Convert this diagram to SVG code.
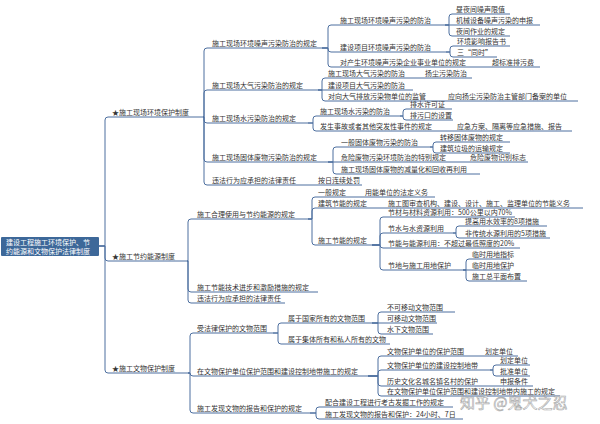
<svg xmlns="http://www.w3.org/2000/svg" width="600" height="424" viewBox="0 0 600 424">
<style>
.t{font-family:"Noto Sans CJK SC","Noto Sans",sans-serif;font-size:7px;fill:#333}
.u{stroke:#4d6f9f;stroke-width:1;fill:none}
.c{stroke:#4d6f9f;stroke-width:1;fill:none}
.rt{font-family:"Noto Sans CJK SC","Noto Sans",sans-serif;font-size:7px;fill:#fff}
.wm{font-family:"Noto Sans CJK SC",sans-serif;font-size:15px;fill:#fff;stroke:#8a8a8a;stroke-width:0.6;opacity:0.75}
</style>
<rect width="600" height="424" fill="#fff"/>
<g id="connectors">
<path class="c" d="M99,246 H105 V120 Q105,117 108,117"/>
<path class="c" d="M99,246 H105 V258 Q105,261 108,261"/>
<path class="c" d="M99,246 H105 V370 Q105,373 108,373"/>
<path class="c" d="M203,117 H204 V51 Q204,48 207,48"/>
<path class="c" d="M203,117 H204 V93 Q204,90 207,90"/>
<path class="c" d="M203,117 H204 V120 Q204,123 207,123"/>
<path class="c" d="M203,117 H204 V159 Q204,162 207,162"/>
<path class="c" d="M203,117 H204 V182 Q204,185 207,185"/>
<path class="c" d="M322,48 H328 V28 Q328,25 331,25"/>
<path class="c" d="M322,48 H328 V49 Q328,52 331,52"/>
<path class="c" d="M322,48 H328 V64 Q328,67 331,67"/>
<path class="c" d="M445,25 H449 V17 Q449,14 452,14"/>
<path class="c" d="M445,25 H452"/>
<path class="c" d="M445,25 H449 V33 Q449,36 452,36"/>
<path class="c" d="M446,52 H450 V49 Q450,46 453,46"/>
<path class="c" d="M446,52 H450 V54 Q450,57 453,57"/>
<path class="c" d="M318,90 H322 V81 Q322,78 325,78"/>
<path class="c" d="M318,90 H325"/>
<path class="c" d="M318,90 H322 V98 Q322,101 325,101"/>
<path class="c" d="M308,123 H313 V119 Q313,116 316,116"/>
<path class="c" d="M308,123 H313 V128 Q313,131 316,131"/>
<path class="c" d="M400,116 H403 V112 Q403,109 406,109"/>
<path class="c" d="M400,116 H403 V117 Q403,120 406,120"/>
<path class="c" d="M328,162 H333 V150 Q333,147 336,147"/>
<path class="c" d="M328,162 H336"/>
<path class="c" d="M328,162 H333 V171 Q333,174 336,174"/>
<path class="c" d="M430,147 H433 V145 Q433,142 436,142"/>
<path class="c" d="M430,147 H433 V150 Q433,153 436,153"/>
<path class="c" d="M187,261 H188 V222 Q188,219 191,219"/>
<path class="c" d="M187,261 H188 V289 Q188,292 191,292"/>
<path class="c" d="M187,261 H188 V300 Q188,303 191,303"/>
<path class="c" d="M308,219 H312 V200 Q312,197 315,197"/>
<path class="c" d="M308,219 H312 V211 Q312,208 315,208"/>
<path class="c" d="M308,219 H312 V242 Q312,245 315,245"/>
<path class="c" d="M372,245 H380 V220 Q380,217 383,217"/>
<path class="c" d="M372,245 H380 V236 Q380,233 383,233"/>
<path class="c" d="M372,245 H380 V245 Q380,248 383,248"/>
<path class="c" d="M372,245 H380 V267 Q380,270 383,270"/>
<path class="c" d="M453,233 H456 V229 Q456,226 459,226"/>
<path class="c" d="M453,233 H456 V235 Q456,238 459,238"/>
<path class="c" d="M463,270 H466 V262 Q466,259 469,259"/>
<path class="c" d="M463,270 H469"/>
<path class="c" d="M463,270 H466 V278 Q466,281 469,281"/>
<path class="c" d="M188,373 H190 V336 Q190,333 193,333"/>
<path class="c" d="M188,373 H190 V373 Q190,376 193,376"/>
<path class="c" d="M188,373 H190 V410 Q190,413 193,413"/>
<path class="c" d="M273,333 H278 V326 Q278,323 281,323"/>
<path class="c" d="M273,333 H278 V341 Q278,344 281,344"/>
<path class="c" d="M372,323 H378 V315 Q378,312 381,312"/>
<path class="c" d="M372,323 H381"/>
<path class="c" d="M372,323 H378 V331 Q378,334 381,334"/>
<path class="c" d="M368,376 H378 V359 Q378,356 381,356"/>
<path class="c" d="M368,376 H378 V373 Q378,370 381,370"/>
<path class="c" d="M368,376 H378 V383 Q378,386 381,386"/>
<path class="c" d="M368,376 H378 V393 Q378,396 381,396"/>
<path class="c" d="M490,370 H493 V368 Q493,365 496,365"/>
<path class="c" d="M490,370 H493 V373 Q493,376 496,376"/>
<path class="c" d="M310,413 H316 V410 Q316,407 319,407"/>
<path class="c" d="M310,413 H316 V416 Q316,419 319,419"/>
</g>
<g id="root"><rect x="1" y="237" width="98" height="19" rx="1" fill="#3d6899"/><text class="rt" x="6" y="244.5">建设工程施工环境保护、节</text><text class="rt" x="6" y="253.5">约能源和文物保护法律制度</text></g>
<g id="A"><text class="t" x="112" y="115">★施工现场环境保护制度</text><path class="u" d="M108,117 H203"/></g>
<g id="A1"><text class="t" x="212" y="46">施工现场环境噪声污染防治的规定</text><path class="u" d="M207,48 H322"/></g>
<g id="A1a"><text class="t" x="340" y="23">施工现场环境噪声污染的防治</text><path class="u" d="M331,25 H445"/></g>
<g id="A1a1"><text class="t" x="456" y="12">昼夜间噪声限值</text><path class="u" d="M452,14 H510"/></g>
<g id="A1a2"><text class="t" x="456" y="23">机械设备噪声污染的申报</text><path class="u" d="M452,25 H540"/></g>
<g id="A1a3"><text class="t" x="456" y="34">夜间作业的规定</text><path class="u" d="M452,36 H510"/></g>
<g id="A1b"><text class="t" x="340" y="50">建设项目环境噪声污染的防治</text><path class="u" d="M331,52 H446"/></g>
<g id="A1b1"><text class="t" x="457" y="44">环境影响报告书</text><path class="u" d="M453,46 H510"/></g>
<g id="A1b2"><text class="t" x="457" y="55">三“同时”</text><path class="u" d="M453,57 H497"/></g>
<g id="A1c"><text class="t" x="340" y="65">对产生环境噪声污染企业事业单位的规定</text><path class="u" d="M331,67 H473"/></g>
<g id="A1c1"><text class="t" x="492" y="65">超标准排污费</text><path class="u" d="M473,67 H540"/></g>
<g id="A2"><text class="t" x="212" y="88">施工现场大气污染防治的规定</text><path class="u" d="M207,90 H318"/></g>
<g id="A2a"><text class="t" x="328" y="76">施工现场大气污染的防治</text><path class="u" d="M325,78 H413"/></g>
<g id="A2a1"><text class="t" x="425" y="76">扬尘污染防治</text><path class="u" d="M413,78 H472"/></g>
<g id="A2b"><text class="t" x="328" y="88">建设项目大气污染的防治</text><path class="u" d="M325,90 H413"/></g>
<g id="A2c"><text class="t" x="328" y="99">对向大气排放污染物单位的监管</text><path class="u" d="M325,101 H438"/></g>
<g id="A2c1"><text class="t" x="448" y="99">应向扬尘污染防治主管部门备案的单位</text><path class="u" d="M438,101 H578"/></g>
<g id="A3"><text class="t" x="212" y="121">施工现场水污染防治的规定</text><path class="u" d="M207,123 H308"/></g>
<g id="A3a"><text class="t" x="320" y="114">施工现场水污染的防治</text><path class="u" d="M316,116 H400"/></g>
<g id="A3a1"><text class="t" x="410" y="107">排水许可证</text><path class="u" d="M406,109 H452"/></g>
<g id="A3a2"><text class="t" x="410" y="118">排污口的设置</text><path class="u" d="M406,120 H453"/></g>
<g id="A3b"><text class="t" x="320" y="129">发生事故或者其他突发性事件的规定</text><path class="u" d="M316,131 H445"/></g>
<g id="A3b1"><text class="t" x="457" y="129">应急方案、隔离等应急措施、报告</text><path class="u" d="M445,131 H572"/></g>
<g id="A4"><text class="t" x="212" y="160">施工现场固体废物污染防治的规定</text><path class="u" d="M207,162 H328"/></g>
<g id="A4a"><text class="t" x="341" y="145">一般固体废物污染的防治</text><path class="u" d="M336,147 H430"/></g>
<g id="A4a1"><text class="t" x="440" y="140">转移固体废物的规定</text><path class="u" d="M436,142 H510"/></g>
<g id="A4a2"><text class="t" x="440" y="151">建筑垃圾的运输规定</text><path class="u" d="M436,153 H510"/></g>
<g id="A4b"><text class="t" x="341" y="160">危险废物污染环境防治的特别规定</text><path class="u" d="M336,162 H452"/></g>
<g id="A4b1"><text class="t" x="470" y="160">危险废物识别标志</text><path class="u" d="M452,162 H528"/></g>
<g id="A4c"><text class="t" x="341" y="172">施工现场固体废物的减量化和回收再利用</text><path class="u" d="M336,174 H480"/></g>
<g id="A5"><text class="t" x="212" y="183">违法行为应承担的法律责任</text><path class="u" d="M207,185 H303"/></g>
<g id="A5a"><text class="t" x="318" y="183">按日连续处罚</text><path class="u" d="M303,185 H362"/></g>
<g id="B"><text class="t" x="112" y="259">★施工节约能源制度</text><path class="u" d="M108,261 H187"/></g>
<g id="B1"><text class="t" x="197" y="217">施工合理使用与节约能源的规定</text><path class="u" d="M191,219 H308"/></g>
<g id="B1a"><text class="t" x="318" y="195">一般规定</text><path class="u" d="M315,197 H345"/></g>
<g id="B1a1"><text class="t" x="365" y="195">用能单位的法定义务</text><path class="u" d="M345,197 H435"/></g>
<g id="B1b"><text class="t" x="318" y="206">建筑节能的规定</text><path class="u" d="M315,208 H372"/></g>
<g id="B1b1"><text class="t" x="388" y="206">施工图审查机构、建设、设计、施工、监理单位的节能义务</text><path class="u" d="M372,208 H583"/></g>
<g id="B1c"><text class="t" x="318" y="243">施工节能的规定</text><path class="u" d="M315,245 H372"/></g>
<g id="B1c1"><text class="t" x="388" y="215">节材与材料资源利用：500公里以内70%</text><path class="u" d="M383,217 H515"/></g>
<g id="B1c2"><text class="t" x="388" y="231">节水与水资源利用</text><path class="u" d="M383,233 H453"/></g>
<g id="B1c2a"><text class="t" x="465" y="224">提高用水效率的8项措施</text><path class="u" d="M459,226 H547"/></g>
<g id="B1c2b"><text class="t" x="465" y="236">非传统水源利用的5项措施</text><path class="u" d="M459,238 H550"/></g>
<g id="B1c3"><text class="t" x="388" y="246">节能与能源利用：不超过最低照度的20%</text><path class="u" d="M383,248 H520"/></g>
<g id="B1c4"><text class="t" x="388" y="268">节地与施工用地保护</text><path class="u" d="M383,270 H463"/></g>
<g id="B1c4a"><text class="t" x="472" y="257">临时用地指标</text><path class="u" d="M469,259 H510"/></g>
<g id="B1c4b"><text class="t" x="472" y="268">临时用地保护</text><path class="u" d="M469,270 H510"/></g>
<g id="B1c4c"><text class="t" x="472" y="279">施工总平面布置</text><path class="u" d="M469,281 H527"/></g>
<g id="B2"><text class="t" x="197" y="290">施工节能技术进步和激励措施的规定</text><path class="u" d="M191,292 H318"/></g>
<g id="B3"><text class="t" x="197" y="301">违法行为应承担的法律责任</text><path class="u" d="M191,303 H285"/></g>
<g id="C"><text class="t" x="112" y="371">★施工文物保护制度</text><path class="u" d="M108,373 H188"/></g>
<g id="C1"><text class="t" x="197" y="331">受法律保护的文物范围</text><path class="u" d="M193,333 H273"/></g>
<g id="C1a"><text class="t" x="288" y="321">属于国家所有的文物范围</text><path class="u" d="M281,323 H372"/></g>
<g id="C1a1"><text class="t" x="387" y="310">不可移动文物范围</text><path class="u" d="M381,312 H455"/></g>
<g id="C1a2"><text class="t" x="387" y="321">可移动文物范围</text><path class="u" d="M381,323 H437"/></g>
<g id="C1a3"><text class="t" x="387" y="332">水下文物范围</text><path class="u" d="M381,334 H433"/></g>
<g id="C1b"><text class="t" x="288" y="342">属于集体所有和私人所有的文物</text><path class="u" d="M281,344 H390"/></g>
<g id="C2"><text class="t" x="197" y="374">在文物保护单位保护范围和建设控制地带施工的规定</text><path class="u" d="M193,376 H368"/></g>
<g id="C2a"><text class="t" x="387" y="354">文物保护单位的保护范围</text><path class="u" d="M381,356 H477"/></g>
<g id="C2a1"><text class="t" x="485" y="354">划定单位</text><path class="u" d="M477,356 H518"/></g>
<g id="C2b"><text class="t" x="387" y="368">文物保护单位的建设控制地带</text><path class="u" d="M381,370 H490"/></g>
<g id="C2b1"><text class="t" x="500" y="363">划定单位</text><path class="u" d="M496,365 H530"/></g>
<g id="C2b2"><text class="t" x="500" y="374">批准单位</text><path class="u" d="M496,376 H530"/></g>
<g id="C2c"><text class="t" x="387" y="384">历史文化名城名镇名村的保护</text><path class="u" d="M381,386 H487"/></g>
<g id="C2c1"><text class="t" x="500" y="384">申报条件</text><path class="u" d="M487,386 H533"/></g>
<g id="C2d"><text class="t" x="387" y="394">在文物保护单位保护范围和建设控制地带内施工的规定</text><path class="u" d="M381,396 H560"/></g>
<g id="C3"><text class="t" x="197" y="411">施工发现文物的报告和保护的规定</text><path class="u" d="M193,413 H310"/></g>
<g id="C3a"><text class="t" x="325" y="405">配合建设工程进行考古发掘工作的规定</text><path class="u" d="M319,407 H453"/></g>
<g id="C3b"><text class="t" x="325" y="417">施工发现文物的报告和保护：24小时、7日</text><path class="u" d="M319,419 H463"/></g>
<text class="wm" x="460" y="408">知乎 @鬼犬之忍</text>
</svg>
